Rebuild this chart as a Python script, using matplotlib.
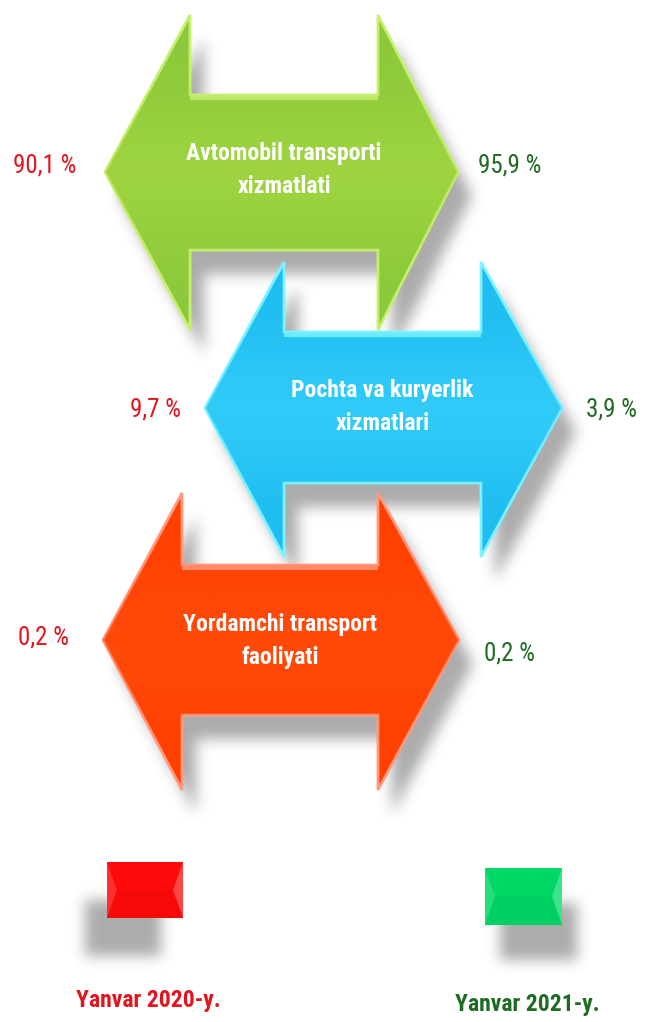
import numpy as np
import matplotlib
matplotlib.use("Agg")
import matplotlib.pyplot as plt
from matplotlib.patches import Polygon, Rectangle
from matplotlib.path import Path
from matplotlib import font_manager as fm

# ---- data ----
categories = ["Avtomobil transporti\nxizmatlati",
              "Pochta va kuryerlik\nxizmatlari",
              "Yordamchi transport\nfaoliyati"]
values_2020 = ["90,1 %", "9,7 %", "0,2 %"]
values_2021 = ["95,9 %", "3,9 %", "0,2 %"]
legend_labels = ["Yanvar 2020-y.", "Yanvar 2021-y."]

# ---- layout / style ----
W, H = 645, 1022
# (left tip x, left back x, right back x, right tip x, center y, head top, head bottom, shaft top, shaft bottom)
arrow_geom = [
    (105, 190, 378, 458, 172, 15, 330, 95, 250),
    (205, 284, 481, 562, 408, 262, 557, 332, 483),
    (103, 182, 378, 459, 640, 493, 790, 565, 715),
]
arrow_colors = ["#8cc83a", "#1ebcf0", "#ff4000"]
arrow_light = ["#a8dc44", "#3cd4ff", "#ff5010"]
arrow_edge_glow = ["#c8f070", "#7ff4ff", "#ff9a80"]
cat_text_y = [170, 407, 641]
left_lab_pos = [(45, 165), (155, 410), (43, 638)]
right_lab_pos = [(510, 165), (612, 410), (510, 653)]
col_2020 = "#e3141e"
col_2021 = "#1e6b23"
legend_sq = [(107, 862, 76, 56), (485, 868, 77, 57)]
legend_sq_colors = ["#ff0a0a", "#00d865"]
legend_shadow_off = [(-22, 38), (15, 35)]
legend_text_pos = [(148, 1000), (527, 1005)]

# pick a narrow font if available
names = {f.name for f in fm.fontManager.ttflist}
narrow = [n for n in ["Liberation Sans Narrow", "Arial Narrow", "Roboto Condensed",
                      "Open Sans Condensed"] if n in names]
FONT = narrow + ["DejaVu Sans"]
STRETCH = "normal" if narrow else "condensed"

fig = plt.figure(figsize=(W / 100, H / 100), dpi=100)
ax = fig.add_axes([0, 0, 1, 1])
ax.set_xlim(0, W)
ax.set_ylim(H, 0)
ax.axis("off")

# grid for shadows
gx, gy = np.meshgrid(np.arange(W) + 0.5, np.arange(H) + 0.5)
grid_pts = np.column_stack([gx.ravel(), gy.ravel()])


def box_blur(a, r):
    for axis in (0, 1):
        c = np.cumsum(np.pad(a, [(r + 1, r) if i == axis else (0, 0) for i in range(2)],
                             mode="constant"), axis=axis)
        if axis == 0:
            a = (c[2 * r + 1:, :] - c[:-2 * r - 1, :]) / (2 * r + 1)
        else:
            a = (c[:, 2 * r + 1:] - c[:, :-2 * r - 1]) / (2 * r + 1)
    return a


shadow_acc = np.zeros((H, W))


def add_shadow(verts, dx, dy, r):
    global shadow_acc
    v = np.array(verts, dtype=float) + np.array([dx, dy])
    m = Path(v).contains_points(grid_pts).reshape(H, W).astype(float)
    for _ in range(3):
        m = box_blur(m, r)
    shadow_acc = np.maximum(shadow_acc, m)


def arrow_verts(g):
    lt, lb, rb, rt, yc, ht, hb, st, sb = g
    return [(lt, yc), (lb, ht), (lb, st), (rb, st), (rb, ht), (rt, yc),
            (rb, hb), (rb, sb), (lb, sb), (lb, hb)]


all_verts = [arrow_verts(g) for g in arrow_geom]
for v in all_verts:
    add_shadow(v, 14, 24, 6)
for (x, y, w, h), (dx, dy) in zip(legend_sq, legend_shadow_off):
    add_shadow([(x, y), (x + w, y), (x + w, y + h), (x, y + h)], dx, dy, 6)

rgba = np.zeros((H, W, 4))
rgba[..., :3] = 0.5
rgba[..., 3] = np.clip(shadow_acc * 0.65, 0, 1)
ax.imshow(rgba, extent=(0, W, H, 0), zorder=1, interpolation="bilinear")

# arrows
for i, (g, v) in enumerate(zip(arrow_geom, all_verts)):
    lt, lb, rb, rt, yc, ht, hb, st, sb = g
    z = 2 + i
    ax.add_patch(Polygon(v, closed=True, facecolor=arrow_colors[i],
                         edgecolor=arrow_edge_glow[i], lw=2.0, zorder=z))
    grad = np.linspace(0, 1, 100)
    prof = np.exp(-((grad - 0.5) / 0.25) ** 2)
    img = np.zeros((100, 2, 4))
    img[..., :3] = matplotlib.colors.to_rgb(arrow_light[i])
    img[..., 3] = (prof * 0.6)[:, None]
    poly = Polygon(v, closed=True, transform=ax.transData)
    im = ax.imshow(img, extent=(lt, rt, ht, hb), zorder=z + 0.1, aspect="auto",
                   interpolation="bilinear")
    im.set_clip_path(poly)
    ax.plot([lb, rb], [st + 3, st + 3], color=arrow_edge_glow[i], lw=3, alpha=0.8,
            zorder=z + 0.2, solid_capstyle="butt")
    ax.text((lb + rb) / 2, cat_text_y[i], categories[i], ha="center", va="center",
            color="white", fontsize=17, fontweight="bold", family=FONT,
            fontstretch=STRETCH, linespacing=1.6, zorder=z + 0.3)

for i in range(3):
    ax.text(*left_lab_pos[i], values_2020[i], ha="center", va="center",
            color=col_2020, fontsize=18, family=FONT, fontstretch=STRETCH, zorder=10)
    ax.text(*right_lab_pos[i], values_2021[i], ha="center", va="center",
            color=col_2021, fontsize=18, family=FONT, fontstretch=STRETCH, zorder=10)

# legend
for (x, y, w, h), c in zip(legend_sq, legend_sq_colors):
    ax.add_patch(Rectangle((x, y), w, h, facecolor=c, edgecolor="none", zorder=6))
    ax.add_patch(Polygon([(x, y), (x + 10, y + h / 2), (x, y + h)],
                         closed=True, facecolor="white", alpha=0.15, edgecolor="none", zorder=6.1))
    ax.add_patch(Polygon([(x + w, y), (x + w - 10, y + h / 2), (x + w, y + h)],
                         closed=True, facecolor="white", alpha=0.25, edgecolor="none", zorder=6.1))
    ax.add_patch(Polygon([(x + 10, y + h / 2), (x + w - 10, y + h / 2), (x + w, y + h), (x, y + h)],
                         closed=True, facecolor="black", alpha=0.04, edgecolor="none", zorder=6.1))
for (tx, ty), lab, c in zip(legend_text_pos, legend_labels, [col_2020, col_2021]):
    ax.text(tx, ty, lab, ha="center", va="center", color=c, fontsize=17,
            fontweight="bold", family=FONT, fontstretch=STRETCH, zorder=10)

fig.savefig("out.png", dpi=100)
